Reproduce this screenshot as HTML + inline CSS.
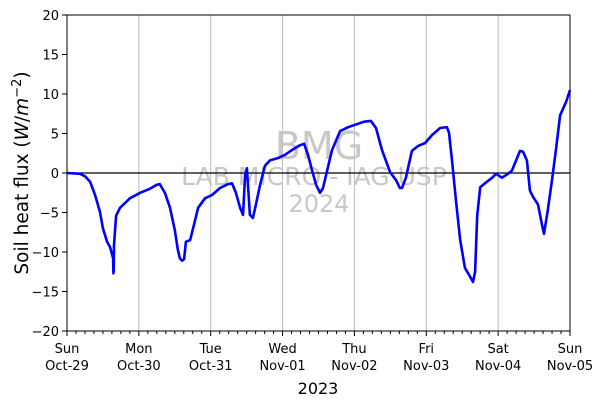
<!DOCTYPE html>
<html><head><meta charset="utf-8"><style>
html,body{margin:0;padding:0;background:#fff;}
svg{display:block;font-family:"DejaVu Sans","Liberation Sans",sans-serif;}
</style></head><body>
<svg id="chart" width="605" height="408" viewBox="0 0 605 408">
<g id="grid"></g>
<g id="watermark" fill="#c8c8c8" text-anchor="middle">
<text x="319" y="159" font-size="38">BMG</text>
<text x="314" y="185" font-size="25">LAB MICRO - IAG USP</text>
<text x="319" y="212" font-size="24">2024</text>
</g>
<line x1="67" x2="570" y1="173" y2="173" stroke="#000" stroke-width="1.2"/>
<g id="series"></g>
<rect x="67" y="15" width="503" height="316" fill="none" stroke="#000" stroke-width="1"/>
<g id="axes"></g>
<text x="318" y="394" font-size="16" text-anchor="middle">2023</text>
<text transform="translate(28,173) rotate(-90)" font-size="18.5" text-anchor="middle">Soil heat flux (<tspan font-style="italic">W</tspan>/<tspan font-style="italic">m</tspan><tspan baseline-shift="super" font-size="13">−2</tspan>)</text>
</svg>
<script>
const dayNames=["Sun","Mon","Tue","Wed","Thu","Fri","Sat","Sun"];
const dayDates=["Oct-29","Oct-30","Oct-31","Nov-01","Nov-02","Nov-03","Nov-04","Nov-05"];
const yTicks=[-20,-15,-10,-5,0,5,10,15,20];
const hours=[0,4.3,6,7.7,9.4,11,12,13.4,14.4,15.4,15.5,15.6,15.7,16.4,17.7,21,24.4,27.7,30,31,32.7,34.4,36,37,37.7,38.4,39.1,39.7,41.1,42.4,43.8,46.1,48.4,51.1,53.8,55.1,56.4,57.8,58.8,59.5,60.1,61.1,62.1,63.1,64.5,66.1,67.8,70.5,72.8,75.5,77.8,79.2,80.5,81.8,83.2,84.5,85.5,86.5,88.5,91.2,93.9,96.2,99.2,101.5,103.2,105.2,107.9,109.9,111.2,111.9,113.2,115.2,117.2,119.6,121.9,124.6,126.9,127.6,128.6,129.9,131.3,132.9,134.6,135.6,136.3,137,138,139.6,142,143.3,145.3,147.3,148.6,150,151.3,152.3,153.6,154.6,155.6,157.3,158.6,159.3,160.6,162,163.3,164.7,166.7,168];
const flux=[0,-0.1,-0.4,-1.1,-2.8,-4.9,-7,-8.7,-9.4,-10.8,-12.7,-12.3,-9.1,-5.4,-4.4,-3.2,-2.5,-2.0,-1.5,-1.4,-2.5,-4.4,-7.2,-9.7,-10.8,-11.1,-10.9,-8.7,-8.5,-6.6,-4.4,-3.2,-2.8,-1.9,-1.4,-1.3,-2.5,-4.4,-5.3,-0.3,0.6,-5.3,-5.7,-4.0,-1.5,0.9,1.6,1.9,2.3,3.0,3.5,3.7,2.3,0.4,-1.5,-2.5,-1.9,-0.3,2.9,5.3,5.8,6.1,6.5,6.6,5.7,2.9,0.1,-0.9,-1.9,-1.9,-0.6,2.8,3.4,3.8,4.8,5.7,5.8,5.1,1.6,-3.4,-8.4,-12,-13.1,-13.8,-12.5,-5.4,-1.8,-1.3,-0.6,-0.1,-0.6,-0.1,0.3,1.6,2.8,2.7,1.6,-2.2,-3.0,-4.0,-6.5,-7.7,-4.7,-0.9,2.9,7.3,9.0,10.5];
const NS="http://www.w3.org/2000/svg";
const X0=67,X1=570,Y0=331,Y1=15;
function xs(h){return X0+(X1-X0)*h/168;}
function ys(v){return Y0-(Y0-Y1)*(v+20)/40;}
function mk(tag,attrs,parent){const e=document.createElementNS(NS,tag);for(const k in attrs)e.setAttribute(k,attrs[k]);parent.appendChild(e);return e;}
const grid=document.getElementById('grid'),axes=document.getElementById('axes'),series=document.getElementById('series');
for(let d=0;d<dayNames.length;d++){
  const x=xs(d*24);
  if(d>0&&d<7){const g=mk('line',{x1:x,x2:x,y1:Y1,y2:Y0,stroke:'#bbb','stroke-width':1},grid);
  
  }
  const t=mk('line',{x1:x,x2:x,y1:Y0,y2:Y0+5,stroke:'#000'},axes);
  
  
  const l=mk('text',{x:x,y:Y0+22,'font-size':13,'text-anchor':'middle'},axes);
  
  
  mk('tspan',{x:x},l).textContent=dayNames[d];
  mk('tspan',{x:x,dy:17},l).textContent=dayDates[d];
}
for(let h=3;h<168;h+=3){if(h%24===0)continue;
  const m=mk('line',{x1:xs(h),x2:xs(h),y1:Y0,y2:Y0+3,stroke:'#000'},axes);
  
  }
yTicks.forEach(v=>{const y=ys(v);
  const t=mk('line',{x1:X0-5,x2:X0,y1:y,y2:y,stroke:'#000'},axes);
  
  
  const l=mk('text',{x:X0-8,y:y+5,'font-size':13,'text-anchor':'end'},axes);
  
  
  l.textContent=String(v).replace('-','−');});
const pts=hours.map((h,i)=>xs(h).toFixed(1)+','+ys(flux[i]).toFixed(1)).join(' ');
const pl=mk('polyline',{points:pts,fill:'none',stroke:'#0000ff','stroke-width':2.6,'stroke-linejoin':'round'},series);


</script>
</body></html>
